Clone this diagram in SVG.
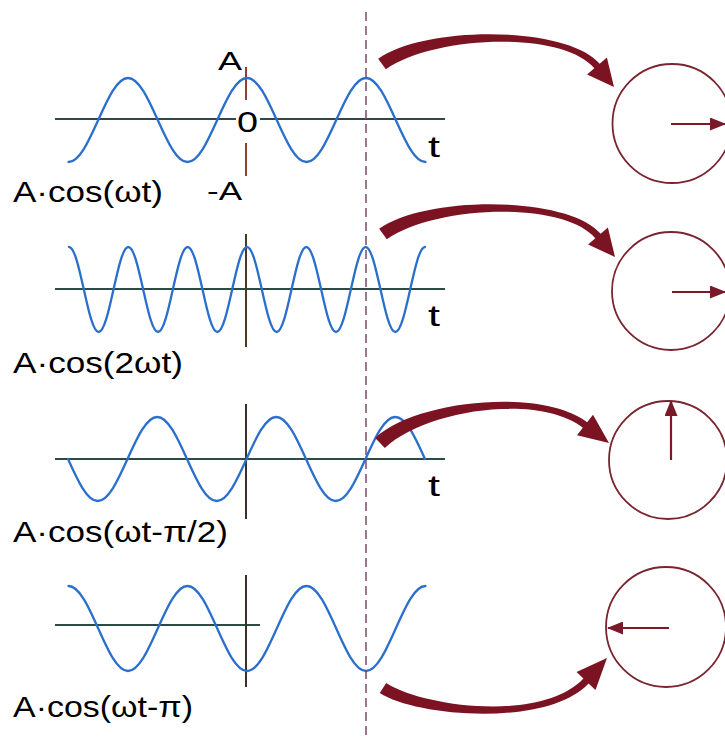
<svg xmlns="http://www.w3.org/2000/svg" width="725" height="737" viewBox="0 0 725 737">
  <style>
    .wave{fill:none;stroke:#2a6fcc;stroke-width:2.3;stroke-linecap:round}
    .haxis{stroke:#2e4a45;stroke-width:2}
    .vaxis{stroke:#3a3028;stroke-width:2}
    .lbl{font-family:"Liberation Sans",Arial,sans-serif;fill:#000}
    .dial{fill:none;stroke:#7a2430;stroke-width:1.8}
    .hand{stroke:#7a1a28;stroke-width:2.2}
    .big{fill:#7b1322}
  </style>
  <defs>
    <marker id="head" markerUnits="userSpaceOnUse" markerWidth="16" markerHeight="13" refX="15" refY="6.5" orient="auto">
      <path d="M0,0 L16,6.5 L0,13 Z" fill="#7a1a28"/>
    </marker>
  </defs>
  <rect width="725" height="737" fill="#fff"/>

  <g id="panel1">
    <line class="haxis" x1="55" y1="119" x2="445" y2="119"/>
    <line class="vaxis" x1="246" y1="67" x2="246" y2="176" style="stroke:#8b4038"/>
    <rect x="236" y="100" width="24" height="43" fill="#fff"/>
    <path class="wave" d="M68.5,162 C79.27,162 88.55,141.5 98.25,120 S117.23,78 128,78 S148.05,98.5 157.75,120 S176.73,162 187.5,162 S207.55,141.5 217.25,120 S236.23,78 247,78 S267.05,98.5 276.75,120 S295.73,162 306.5,162 S326.55,141.5 336.25,120 S355.23,78 366,78 S386.05,98.5 395.75,120 S414.73,162 425.5,162"/>
    <text class="lbl" x="218" y="70" font-size="25" textLength="24" lengthAdjust="spacingAndGlyphs">A</text>
    <text class="lbl" x="237" y="132" font-size="30" textLength="21" lengthAdjust="spacingAndGlyphs">0</text>
    <text class="lbl" x="207" y="200" font-size="25" textLength="35" lengthAdjust="spacingAndGlyphs">-A</text>
    <text class="lbl" x="428" y="157" font-size="29" textLength="12" lengthAdjust="spacingAndGlyphs">t</text>
    <text class="lbl" x="13" y="202" font-size="29" textLength="150" lengthAdjust="spacingAndGlyphs">A·cos(ωt)</text>
  </g>

  <g id="panel2">
    <line class="haxis" x1="55" y1="289" x2="445" y2="289"/>
    <line class="vaxis" x1="246" y1="234" x2="246" y2="347" style="stroke:#4a3a22"/>
    <path class="wave" d="M69,247 C74.37,247 79,267.73 83.83,289.5 S93.3,332 98.67,332 S108.67,311.27 113.5,289.5 S122.97,247 128.33,247 S138.33,267.73 143.17,289.5 S152.64,332 158,332 S168,311.27 172.83,289.5 S182.3,247 187.67,247 S197.67,267.73 202.5,289.5 S211.97,332 217.33,332 S227.33,311.27 232.17,289.5 S241.64,247 247,247 S257,267.73 261.83,289.5 S271.3,332 276.67,332 S286.67,311.27 291.5,289.5 S300.97,247 306.33,247 S316.33,267.73 321.17,289.5 S330.64,332 336,332 S346,311.27 350.83,289.5 S360.3,247 365.67,247 S375.67,267.73 380.5,289.5 S389.97,332 395.33,332 S405.33,311.27 410.17,289.5 S419.64,247 425,247"/>
    <text class="lbl" x="428" y="326" font-size="29" textLength="12" lengthAdjust="spacingAndGlyphs">t</text>
    <text class="lbl" x="13" y="373" font-size="29" textLength="170" lengthAdjust="spacingAndGlyphs">A·cos(2ωt)</text>
  </g>

  <g id="panel3">
    <line class="haxis" x1="55" y1="459" x2="445" y2="459"/>
    <line class="vaxis" x1="246" y1="404" x2="246" y2="519"/>
    <path class="wave" d="M68,459 C77.7,480.5 86.98,501 97.75,501 S117.8,480.5 127.5,459 S146.48,417 157.25,417 S177.3,437.5 187,459 S205.98,501 216.75,501 S236.8,480.5 246.5,459 S265.48,417 276.25,417 S296.3,437.5 306,459 S324.98,501 335.75,501 S355.8,480.5 365.5,459 S384.48,417 395.25,417 S415.3,437.5 425,459"/>
    <text class="lbl" x="428" y="496" font-size="29" textLength="12" lengthAdjust="spacingAndGlyphs">t</text>
    <text class="lbl" x="13" y="542" font-size="29" textLength="215" lengthAdjust="spacingAndGlyphs">A·cos(ωt-π/2)</text>
  </g>

  <g id="panel4">
    <line class="haxis" x1="55" y1="625" x2="260" y2="625"/>
    <line class="vaxis" x1="246" y1="575" x2="246" y2="687"/>
    <path class="wave" d="M68.5,586 C79.27,586 88.55,606.73 98.25,628.5 S117.23,671 128,671 S148.05,650.27 157.75,628.5 S176.73,586 187.5,586 S207.55,606.73 217.25,628.5 S236.23,671 247,671 S267.05,650.27 276.75,628.5 S295.73,586 306.5,586 S326.55,606.73 336.25,628.5 S355.23,671 366,671 S386.05,650.27 395.75,628.5 S414.73,586 425.5,586"/>
    <text class="lbl" x="13" y="717" font-size="29" textLength="180" lengthAdjust="spacingAndGlyphs">A·cos(ωt-π)</text>
  </g>

  <g id="dial1">
    <circle class="dial" cx="672" cy="123.5" r="59.5"/>
    <line class="hand" x1="671" y1="124" x2="725" y2="124" marker-end="url(#head)"/>
  </g>
  <g id="dial2">
    <circle class="dial" cx="671" cy="291" r="59"/>
    <line class="hand" x1="672" y1="292" x2="725" y2="292" marker-end="url(#head)"/>
  </g>
  <g id="dial3">
    <circle class="dial" cx="668" cy="460" r="59"/>
    <line class="hand" x1="671" y1="460" x2="671" y2="401" marker-end="url(#head)"/>
  </g>
  <g id="dial4">
    <circle class="dial" cx="666" cy="627" r="60"/>
    <line class="hand" x1="669" y1="628" x2="608" y2="628" marker-end="url(#head)"/>
  </g>

  <g id="connectors">
    <line x1="366" y1="12" x2="366" y2="737" stroke="#7a4a6e" stroke-width="1.5" stroke-dasharray="9 5"/>
    <path class="big" d="M378.2,58.7 C426.2,24.7 567.7,25.75 599.7,63.75 L606.9,57.6 L614,87 L587.1,74.4 L594.3,68.25 C562.3,30.25 433.8,35.3 385.8,69.3 Z"/>
    <path class="big" transform="translate(1,170)" d="M378.2,58.7 C426.2,24.7 567.7,25.75 599.7,63.75 L606.9,57.6 L614,87 L587.1,74.4 L594.3,68.25 C562.3,30.25 433.8,35.3 385.8,69.3 Z"/>
    <path class="big" d="M375.2,437.9 C415.2,399.9 542.15,387.24 587.15,422.24 L593,414.7 L609,443 L577,435.3 L582.85,427.76 C537.85,392.76 424.8,410.1 384.8,448.1 Z"/>
    <path class="big" d="M386.26,682.97 C423.26,706.97 542.44,722.61 583.44,678.61 L576.5,672.1 L607,658 L595.5,689.9 L588.56,683.39 C547.56,727.39 416.74,717.03 379.74,693.03 Z"/>
  </g>
</svg>
